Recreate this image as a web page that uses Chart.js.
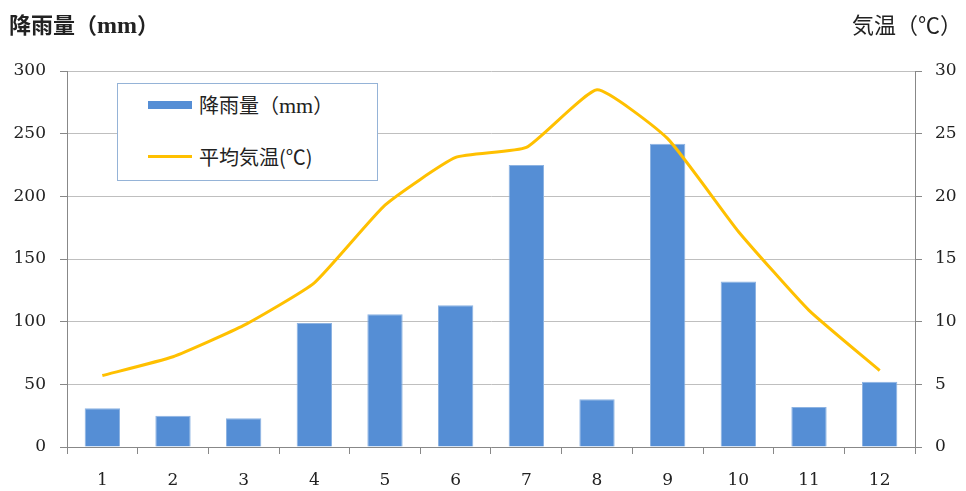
<!DOCTYPE html>
<html>
<head>
<meta charset="utf-8">
<script src="https://cdn.jsdelivr.net/npm/chart.js@4"></script>
<style>
  body { margin: 0; background: #fff; }
  #wrap { position: relative; width: 966px; height: 491px; }
  .axis-title { position: absolute; top: 7px; font: 22px "Noto Sans CJK JP", sans-serif; color: #222; }
  .latin { font-family: "Liberation Serif", serif; }
  #legend { position: absolute; left: 117px; top: 83px; width: 259px; height: 96px;
            border: 1px solid #95b3d7; background: #fff;
            font: 20px "Noto Sans CJK JP", sans-serif; color: #222; }
  .item { position: absolute; left: 30px; display: flex; align-items: center; }
  .swatch { width: 44px; margin-right: 7px; }
</style>
</head>
<body>
<div id="wrap">
  <canvas id="chart" width="966" height="491"></canvas>
  <div class="axis-title" style="left:9px;font-weight:600">降雨量（<span class="latin" style="font-weight:bold;font-size:24px">mm</span>）</div>
  <div class="axis-title" style="right:4px">気温（℃）</div>
  <div id="legend"></div>
</div>
<script>
const months = ["1", "2", "3", "4", "5", "6", "7", "8", "9", "10", "11", "12"];
const rainfall = [31, 25, 23, 99, 106, 113, 225, 38, 242, 132, 32, 52];
const avgTemp = [5.7, 7.2, 9.7, 13.1, 19.3, 23.1, 23.9, 28.5, 24.6, 17.2, 10.9, 6.1];
const rainTicks = [0, 50, 100, 150, 200, 250, 300];
const tempTicks = [0, 5, 10, 15, 20, 25, 30];

const tickFont = { family: "DejaVu Serif", size: 17 };

const chart = new Chart(document.getElementById("chart"), {
  type: "bar",
  data: {
    labels: months,
    datasets: [
      {
        type: "line",
        label: "平均気温(℃)",
        data: avgTemp,
        yAxisID: "yTemp",
        borderColor: "#ffc000",
        backgroundColor: "#ffc000",
        borderWidth: 3,
        pointRadius: 0,
        tension: 0.15,
        order: 0,
      },
      {
        label: "降雨量（mm）",
        data: rainfall,
        yAxisID: "yRain",
        backgroundColor: "#558ed5",
        borderColor: "#8db3e2",
        borderWidth: 1,
        categoryPercentage: 1,
        barPercentage: 0.5,
        order: 1,
      },
    ],
  },
  options: {
    responsive: false,
    animation: false,
    layout: { padding: { top: 71, left: 0, right: 0, bottom: 0 } },
    plugins: { legend: { display: false }, tooltip: { enabled: false } },
    scales: {
      x: {
        grid: { drawOnChartArea: false, drawTicks: true, tickLength: 7, color: "#888" },
        border: { color: "#888" },
        ticks: { font: tickFont, color: "#222", padding: 16 },
        afterFit: (s) => { s.height = 44; },
      },
      yRain: {
        position: "left",
        min: 0,
        max: 300,
        afterBuildTicks: (s) => { s.ticks = rainTicks.map((v) => ({ value: v })); },
        grid: { color: "#bfbfbf", tickColor: "#888", tickLength: 7 },
        border: { color: "#888" },
        ticks: { font: tickFont, color: "#222", padding: 14 },
        afterFit: (s) => { s.width = 67; },
      },
      yTemp: {
        position: "right",
        min: 0,
        max: 30,
        afterBuildTicks: (s) => { s.ticks = tempTicks.map((v) => ({ value: v })); },
        grid: { drawOnChartArea: false, color: "#888", tickLength: 7 },
        border: { color: "#888" },
        ticks: { font: tickFont, color: "#222", padding: 13 },
        afterFit: (s) => { s.width = 51; },
      },
    },
  },
});

// legend box inside the plot, built from the datasets
const legend = document.getElementById("legend");
const rows = [chart.data.datasets[1], chart.data.datasets[0]];
rows.forEach((ds, i) => {
  const item = document.createElement("div");
  item.className = "item";
  item.style.top = i === 0 ? "6px" : "58px";
  const sw = document.createElement("span");
  sw.className = "swatch";
  sw.style.height = ds.type === "line" ? "3px" : "8px";
  sw.style.background = ds.backgroundColor;
  const txt = document.createElement("span");
  // latin part of the label in a serif face
  txt.innerHTML = ds.label.replace("mm", '<span class="latin" style="font-size:22px">mm</span>');
  item.appendChild(sw);
  item.appendChild(txt);
  legend.appendChild(item);
});
</script>
</body>
</html>
